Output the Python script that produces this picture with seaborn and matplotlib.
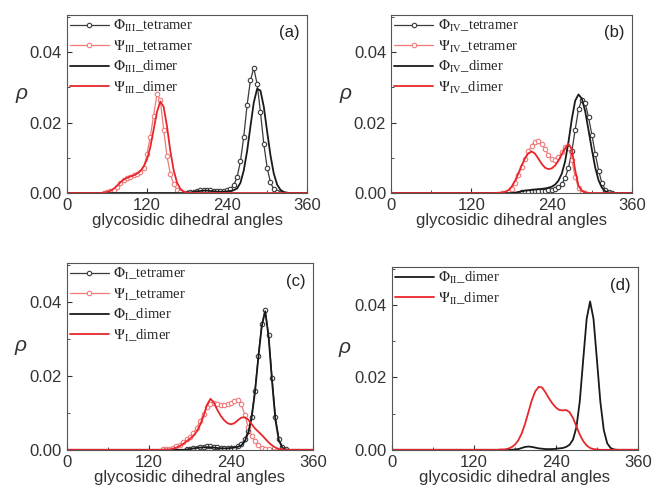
import pandas as pd
import matplotlib
matplotlib.use("Agg")
import matplotlib.pyplot as plt
import seaborn as sns
from matplotlib.ticker import MultipleLocator, FormatStrFormatter

# angle grid (degrees), 5 degree steps
angles = list(range(0, 361, 5))

# (a) cellulose III -- start angle + values every 5 degrees, zero elsewhere
phi3_tet_start = 180
phi3_tet = [0.0001, 0.0002, 0.0004, 0.0006, 0.0008, 0.0009, 0.0009, 0.0008, 0.0007, 0.0006,
            0.0005, 0.0006, 0.0008, 0.0012, 0.0022, 0.0045, 0.009, 0.016, 0.025, 0.032,
            0.0355, 0.031, 0.023, 0.014, 0.0072, 0.003, 0.0011, 0.0003, 0.0001]
psi3_tet_start = 55
psi3_tet = [0.0001, 0.0002, 0.0005, 0.001, 0.0018, 0.0028, 0.0036, 0.0042, 0.0045, 0.005,
            0.0055, 0.006, 0.0072, 0.011, 0.016, 0.022, 0.028, 0.0265, 0.018, 0.0105,
            0.0055, 0.0025, 0.001, 0.0004, 0.0001]
phi3_dim_start = 180
phi3_dim = [0.0001, 0.0002, 0.0003, 0.0005, 0.0006, 0.0007, 0.0007, 0.0006, 0.0005, 0.0004,
            0.0004, 0.0004, 0.0005, 0.0006, 0.0008, 0.0013, 0.0029, 0.0064, 0.0119, 0.0189,
            0.0257, 0.0296, 0.0291, 0.0245, 0.0175, 0.0107, 0.0055, 0.0024, 0.0009, 0.0003,
            0.0001]
psi3_dim_start = 55
psi3_dim = [0.0001, 0.0003, 0.0006, 0.0012, 0.002, 0.003, 0.0038, 0.0043, 0.0047, 0.005,
            0.0055, 0.0062, 0.0075, 0.0095, 0.013, 0.018, 0.023, 0.026, 0.0245, 0.019,
            0.012, 0.0065, 0.003, 0.0012, 0.0004, 0.0001]

# (b) cellulose IV
phi4_tet_start = 195
phi4_tet = [0.0002, 0.0003, 0.0004, 0.0005, 0.0006, 0.0006, 0.0007, 0.0007, 0.0008, 0.0009,
            0.0012, 0.0017, 0.0026, 0.0042, 0.0072, 0.0118, 0.018, 0.0238, 0.0265, 0.0255,
            0.0215, 0.0165, 0.0112, 0.0064, 0.0028, 0.001, 0.0003, 0.0001]
psi4_tet_start = 165
psi4_tet = [0.0001, 0.0001, 0.0004, 0.0012, 0.0028, 0.005, 0.0075, 0.0098, 0.0118, 0.0135,
            0.0146, 0.0148, 0.014, 0.0124, 0.0108, 0.0097, 0.0094, 0.0101, 0.0116, 0.013,
            0.0128, 0.0095, 0.0045, 0.0015, 0.0004, 0.0001]
phi4_dim_start = 185
phi4_dim = [0.0001, 0.0003, 0.0005, 0.0007, 0.0008, 0.0009, 0.001, 0.0011, 0.0012, 0.0013,
            0.0015, 0.0018, 0.0024, 0.0035, 0.0055, 0.009, 0.0145, 0.021, 0.0262, 0.028,
            0.0268, 0.0232, 0.0178, 0.0123, 0.0072, 0.0036, 0.0015, 0.0005, 0.0002]
psi4_dim_start = 160
psi4_dim = [0.0001, 0.0001, 0.0003, 0.0008, 0.0018, 0.0034, 0.0055, 0.0078, 0.0098, 0.0113,
            0.0118, 0.0112, 0.0098, 0.0083, 0.0072, 0.0068, 0.007, 0.0078, 0.0092, 0.011,
            0.0128, 0.014, 0.0125, 0.0065, 0.002, 0.0006, 0.0002]

# (c) cellulose I
phi1_tet_start = 175
phi1_tet = [0.0001, 0.0003, 0.0004, 0.0005, 0.0007, 0.0008, 0.0009, 0.0009, 0.0008, 0.0007,
            0.0006, 0.0005, 0.0005, 0.0005, 0.0006, 0.0009, 0.0015, 0.0028, 0.005, 0.009,
            0.016, 0.0255, 0.034, 0.0378, 0.031, 0.0195, 0.0088, 0.003, 0.0008, 0.0002]
psi1_tet_start = 140
psi1_tet = [0.0001, 0.0001, 0.0002, 0.0005, 0.0009, 0.0014, 0.002, 0.0028, 0.0036, 0.0046,
            0.006, 0.0078, 0.0098, 0.0115, 0.0124, 0.0126, 0.0123, 0.012, 0.012, 0.0123,
            0.0128, 0.0133, 0.0135, 0.0125, 0.0095, 0.0062, 0.0038, 0.0023, 0.0012, 0.0005,
            0.0002, 0.0001]
phi1_dim_start = 175
phi1_dim = [0.0001, 0.0002, 0.0004, 0.0005, 0.0006, 0.0007, 0.0007, 0.0007, 0.0006, 0.0005,
            0.0004, 0.0004, 0.0004, 0.0005, 0.0006, 0.0008, 0.0012, 0.0022, 0.0045, 0.0085,
            0.0155, 0.025, 0.0335, 0.0375, 0.0305, 0.0185, 0.008, 0.0025, 0.0006, 0.0001]
psi1_dim_start = 145
psi1_dim = [0.0001, 0.0001, 0.0003, 0.0006, 0.001, 0.0016, 0.0023, 0.003, 0.0038, 0.005,
            0.0068, 0.0092, 0.0122, 0.0138, 0.0128, 0.0108, 0.0092, 0.008, 0.0072, 0.0069,
            0.0072, 0.008, 0.0087, 0.0088, 0.0082, 0.007, 0.0058, 0.0049, 0.004, 0.003,
            0.002, 0.0012, 0.0006, 0.0002, 0.0001]

# (d) cellulose II (dimer only)
phi2_dim_start = 180
phi2_dim = [0.0001, 0.0002, 0.0005, 0.0008, 0.0009, 0.0008, 0.0006, 0.0004, 0.0003, 0.0002,
            0.0002, 0.0002, 0.0003, 0.0004, 0.0005, 0.0008, 0.0014, 0.0028, 0.0062, 0.0135,
            0.025, 0.0362, 0.041, 0.0362, 0.0249, 0.0133, 0.0055, 0.0018, 0.0005, 0.0001]
psi2_dim_start = 160
psi2_dim = [0.0001, 0.0001, 0.0003, 0.0007, 0.0014, 0.0026, 0.0045, 0.0072, 0.0105, 0.0138,
            0.0162, 0.0174, 0.0172, 0.0158, 0.0142, 0.0128, 0.0117, 0.011, 0.0109, 0.011,
            0.0104, 0.0088, 0.0065, 0.0042, 0.0024, 0.0012, 0.0005, 0.0002, 0.0001]

panel_tags = ["(a)", "(b)", "(c)", "(d)"]
panel_subs = ["III", "IV", "I", "II"]

sns.set_style("ticks")
plt.rcParams["font.family"] = ["Liberation Sans", "DejaVu Sans"]
plt.rcParams["mathtext.fontset"] = "stix"

black = "#1a1a1a"
dark = "#3a3a3a"
red = "#e8262b"
pink = "#f07a7a"


def full_curve(start, vals):
    s = pd.Series(vals, index=range(start, start + 5 * len(vals), 5))
    return s.reindex(angles, fill_value=0.0)


def draw(ax, start, vals, label, color, tetramer):
    y = full_curve(start, vals)
    df = pd.DataFrame({"angle": angles, "p": y.values})
    if tetramer:
        i0 = angles.index(start)
        sns.lineplot(data=df, x="angle", y="p", ax=ax, color=color, lw=0.9,
                     marker="o", markersize=3.2, markerfacecolor="white",
                     markeredgecolor=color, markeredgewidth=0.8,
                     markevery=slice(i0, i0 + len(vals)), label=label)
    else:
        sns.lineplot(data=df, x="angle", y="p", ax=ax, color=color, lw=1.3, label=label)


fig = plt.figure(figsize=(6.55, 4.9), dpi=100)
ax_a = fig.add_axes([0.102, 0.606, 0.367, 0.363])
ax_b = fig.add_axes([0.597, 0.606, 0.368, 0.363])
ax_c = fig.add_axes([0.102, 0.082, 0.376, 0.381])
ax_d = fig.add_axes([0.598, 0.082, 0.376, 0.373])
axes = [ax_a, ax_b, ax_c, ax_d]

series = [
    [(phi3_tet_start, phi3_tet, dark, True), (psi3_tet_start, psi3_tet, pink, True),
     (phi3_dim_start, phi3_dim, black, False), (psi3_dim_start, psi3_dim, red, False)],
    [(phi4_tet_start, phi4_tet, dark, True), (psi4_tet_start, psi4_tet, pink, True),
     (phi4_dim_start, phi4_dim, black, False), (psi4_dim_start, psi4_dim, red, False)],
    [(phi1_tet_start, phi1_tet, dark, True), (psi1_tet_start, psi1_tet, pink, True),
     (phi1_dim_start, phi1_dim, black, False), (psi1_dim_start, psi1_dim, red, False)],
    [(phi2_dim_start, phi2_dim, black, False), (psi2_dim_start, psi2_dim, red, False)],
]

for ax, tag, sub, curves in zip(axes, panel_tags, panel_subs, series):
    for start, vals, color, tet in curves:
        greek = r"\Phi" if color in (dark, black) else r"\Psi"
        kind = "tetramer" if tet else "dimer"
        label = r"$\mathrm{%s}_{\mathrm{%s}}$_%s" % (greek, sub, kind)
        draw(ax, start, vals, label, color, tet)
    ax.set_xlim(0, 360)
    ax.set_ylim(0, 0.0505)
    ax.xaxis.set_major_locator(MultipleLocator(120))
    ax.xaxis.set_minor_locator(MultipleLocator(60))
    ax.yaxis.set_major_locator(MultipleLocator(0.02))
    ax.yaxis.set_minor_locator(MultipleLocator(0.01))
    ax.yaxis.set_major_formatter(FormatStrFormatter("%.2f"))
    ax.tick_params(which="both", direction="in", labelsize=12, colors="#333333")
    ax.tick_params(which="major", length=3.5)
    ax.tick_params(which="minor", length=2)
    for sp in ax.spines.values():
        sp.set_color("#555555")
        sp.set_linewidth(0.8)
    ax.set_xlabel("glycosidic dihedral angles", fontsize=12, labelpad=0, color="#333333")
    ax.set_ylabel("")
    ax.text(-0.19, 0.56, "ρ", transform=ax.transAxes, fontsize=15,
            ha="center", va="center", style="italic", color="#333333")
    ax.text(0.97, 0.9, tag, transform=ax.transAxes, fontsize=12,
            ha="right", va="center", color="#222222")
    ax.legend(loc="upper left", frameon=False, handlelength=2.7, handletextpad=0.3,
              labelspacing=0.3, borderaxespad=0.1, borderpad=0.1,
              prop={"family": "Liberation Serif", "size": 10.5})

fig.savefig("out.png", dpi=100)
